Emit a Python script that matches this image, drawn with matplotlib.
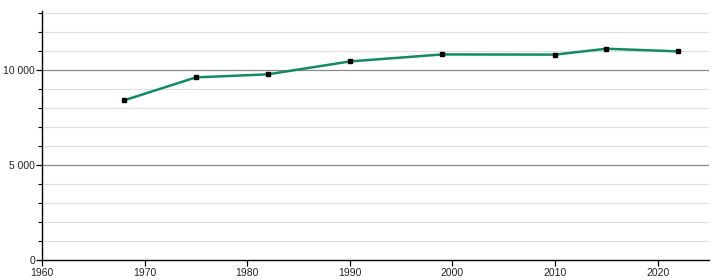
import matplotlib
matplotlib.use("Agg")
import matplotlib.pyplot as plt
from matplotlib.ticker import FixedLocator, FuncFormatter

years = [1968, 1975, 1982, 1990, 1999, 2010, 2015, 2022]
population = [8420, 9630, 9790, 10470, 10840, 10830, 11140, 11000]
x_ticks = [1960, 1970, 1980, 1990, 2000, 2010, 2020]
y_major = [0, 5000, 10000]
y_minor = [1000, 2000, 3000, 4000, 6000, 7000, 8000, 9000, 11000, 12000, 13000]

plt.rcParams['font.family'] = ['Liberation Sans', 'DejaVu Sans']

fig = plt.figure(figsize=(7.2, 2.8), dpi=100)
ax = fig.add_axes([42/720, 20/280, (709-42)/720, (260-11)/280])

ax.set_xlim(1960, 2025)
ax.set_ylim(0, 13130)

for v in y_minor:
    ax.axhline(v, color='#e0e0e0', lw=0.9, zorder=1)
for v in y_major[1:]:
    ax.axhline(v, color='#888888', lw=0.9, zorder=1)

ax.plot(years, population, color='#138a66', lw=1.8, zorder=3)
ax.plot(years, population, ls='none', marker='s', ms=3.3, color='black', zorder=4)

ax.xaxis.set_major_locator(FixedLocator(x_ticks))
ax.yaxis.set_major_locator(FixedLocator(y_major))
ax.yaxis.set_minor_locator(FixedLocator(y_minor))
ax.yaxis.set_major_formatter(FuncFormatter(lambda v, p: f"{int(v):,}".replace(",", " ")))

for s in ['top', 'right']:
    ax.spines[s].set_visible(False)
ax.spines['left'].set_linewidth(1.0)
ax.spines['bottom'].set_linewidth(1.0)

ax.tick_params(axis='both', which='major', labelsize=7.5, length=4, width=0.9, pad=1, colors='black', labelcolor='#222222')
ax.tick_params(axis='y', which='minor', length=3, width=0.8)
ax.tick_params(axis='x', pad=2)

fig.savefig('out.png', dpi=100)
